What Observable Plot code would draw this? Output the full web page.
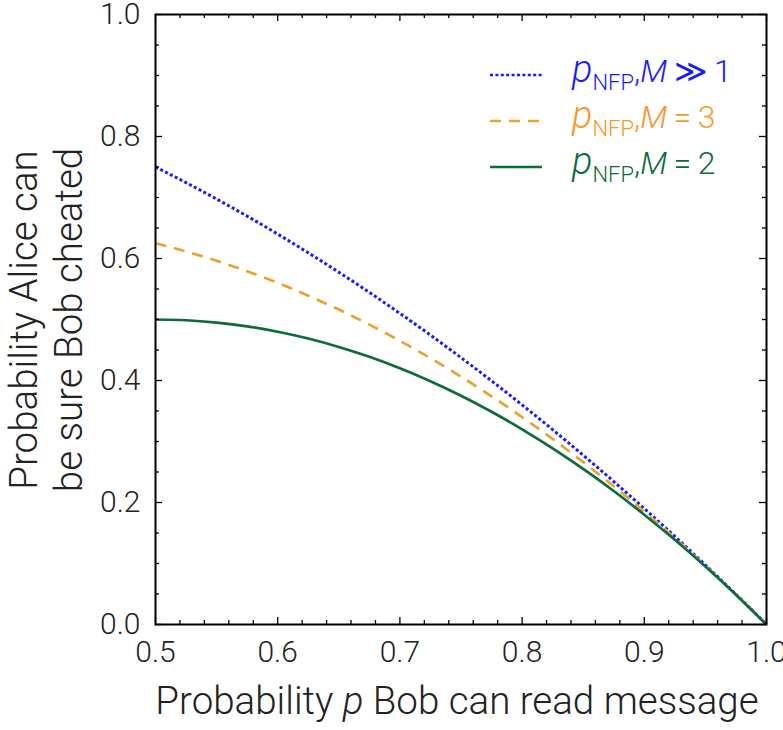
<!DOCTYPE html>
<html><head><meta charset="utf-8">
<script src="https://cdn.jsdelivr.net/npm/d3@7"></script>
<script src="https://cdn.jsdelivr.net/npm/@observablehq/plot@0.6"></script>
<style>body{margin:0;background:#fff} svg{font-family:Roboto,"Liberation Sans",sans-serif;font-weight:300}</style>
</head><body><div id="chart"></div>
<script>
// probability p Bob can read message
const pValues = [0.5, 0.525, 0.55, 0.575, 0.6, 0.625, 0.65, 0.675, 0.7, 0.725, 0.75, 0.775, 0.8, 0.825, 0.85, 0.875, 0.9, 0.925, 0.95, 0.975, 1.0];
// probability Alice can be sure Bob cheated
const seriesMLarge = [0.75, 0.7244, 0.6975, 0.6694, 0.64, 0.6094, 0.5775, 0.5444, 0.51, 0.4744, 0.4375, 0.3994, 0.36, 0.3194, 0.2775, 0.2344, 0.19, 0.1444, 0.0975, 0.0494, 0];
const seriesM3 = [0.625, 0.6116, 0.5963, 0.5791, 0.56, 0.5391, 0.5163, 0.4916, 0.465, 0.4366, 0.4063, 0.3741, 0.34, 0.3041, 0.2663, 0.2266, 0.185, 0.1416, 0.0963, 0.0491, 0];
const seriesM2 = [0.5, 0.4988, 0.495, 0.4888, 0.48, 0.4688, 0.455, 0.4388, 0.42, 0.3988, 0.375, 0.3488, 0.32, 0.2888, 0.255, 0.2188, 0.18, 0.1388, 0.095, 0.0488, 0];
const seriesNames = ["M≫1", "M=3", "M=2"];
const seriesColors = ["#1a1aff", "#e8a32e", "#0b6b3a"];
const labelColors = ["#1a1aff", "#f8982c", "#0b6b3a"];
const seriesDash = ["3,2.4", "11,8", null];
const xMajor = [0.5, 0.6, 0.7, 0.8, 0.9, 1.0];
const xMinor = [0.52, 0.54, 0.56, 0.58, 0.62, 0.64, 0.66, 0.68, 0.72, 0.74, 0.76, 0.78, 0.82, 0.84, 0.86, 0.88, 0.92, 0.94, 0.96, 0.98];
const yMajor = [0, 0.2, 0.4, 0.6, 0.8, 1.0];
const yMinor = [0.05, 0.1, 0.15, 0.25, 0.3, 0.35, 0.45, 0.5, 0.55, 0.65, 0.7, 0.75, 0.85, 0.9, 0.95];

const allSeries = [seriesMLarge, seriesM3, seriesM2];
const rows = allSeries.map((vals, s) => pValues.map((p, i) => ({p, v: vals[i], s})));

const W = 783, H = 730, mL = 155, mR = 17, mT = 14, mB = 106;
const innerH = H - mT - mB, innerW = W - mL - mR;
const majorLen = 7, minorLen = 4;

const marks = [];
rows.forEach((r, s) => {
  marks.push(Plot.line(r, {x: "p", y: "v", curve: "natural", stroke: seriesColors[s], strokeWidth: s === 0 ? 3 : 2.7, strokeDasharray: seriesDash[s] || undefined, strokeLinecap: "butt"}));
});
marks.push(
  Plot.tickX(xMajor, {x: d => d, insetTop: innerH - majorLen, stroke: "black", strokeWidth: 1.3}),
  Plot.tickX(xMinor, {x: d => d, insetTop: innerH - minorLen, stroke: "black", strokeWidth: 1.3}),
  Plot.tickX(xMajor, {x: d => d, insetBottom: innerH - majorLen, stroke: "black", strokeWidth: 1.3}),
  Plot.tickX(xMinor, {x: d => d, insetBottom: innerH - minorLen, stroke: "black", strokeWidth: 1.3}),
  Plot.tickY(yMajor, {y: d => d, insetRight: innerW - majorLen, stroke: "black", strokeWidth: 1.3}),
  Plot.tickY(yMinor, {y: d => d, insetRight: innerW - minorLen, stroke: "black", strokeWidth: 1.3}),
  Plot.tickY(yMajor, {y: d => d, insetLeft: innerW - majorLen, stroke: "black", strokeWidth: 1.3}),
  Plot.tickY(yMinor, {y: d => d, insetLeft: innerW - minorLen, stroke: "black", strokeWidth: 1.3}),
  Plot.axisX(xMajor, {tickSize: 0, tickPadding: 16, tickFormat: d3.format(".1f"), fontSize: 30, label: null, fill: "#222"}),
  Plot.axisY(yMajor, {tickSize: 0, tickPadding: 15, tickFormat: d3.format(".1f"), fontSize: 30, label: null, fill: "#222"}),
  Plot.frame({stroke: "black", strokeWidth: 2})
);

const chart = Plot.plot({
  width: W, height: H,
  marginLeft: mL, marginRight: mR, marginTop: mT, marginBottom: mB,
  x: {domain: [0.5, 1.0]},
  y: {domain: [0, 1.0]},
  marks
});
document.getElementById("chart").appendChild(chart);

const svg = d3.select(chart);
const xl = svg.append("text").attr("x", 457).attr("y", 714).attr("text-anchor", "middle")
  .attr("font-size", 38.5).attr("fill", "#222");
xl.append("tspan").text("Probability ");
xl.append("tspan").attr("font-style", "italic").text("p");
xl.append("tspan").text(" Bob can read message");
const yl = svg.append("g").attr("transform", "translate(37,320) rotate(-90)");
yl.append("text").attr("text-anchor", "middle").attr("font-size", 38.5).attr("fill", "#222").text("Probability Alice can");
yl.append("text").attr("text-anchor", "middle").attr("y", 45).attr("font-size", 38.5).attr("fill", "#222").text("be sure Bob cheated");

const legendSuffix = ["\u2009≫\u20091", "\u2009=\u20093", "\u2009=\u20092"];
seriesNames.forEach((name, s) => {
  const cy = 75 + s * 46;
  svg.append("line").attr("x1", 490).attr("x2", 542).attr("y1", cy).attr("y2", cy)
    .attr("stroke", seriesColors[s]).attr("stroke-width", 2.7)
    .attr("stroke-dasharray", seriesDash[s]);
  const t = svg.append("text").attr("x", 572).attr("y", cy + 7).attr("text-anchor", "start")
    .attr("font-size", 32).attr("fill", labelColors[s]);
  t.append("tspan").attr("font-style", "italic").attr("font-size", 38).text("p");
  t.append("tspan").attr("font-size", 22).attr("dy", 8).text("NFP");
  t.append("tspan").attr("dy", -8).text(",");
  t.append("tspan").attr("font-style", "italic").text("M");
  t.append("tspan").text(legendSuffix[s]);
});
</script></body></html>
